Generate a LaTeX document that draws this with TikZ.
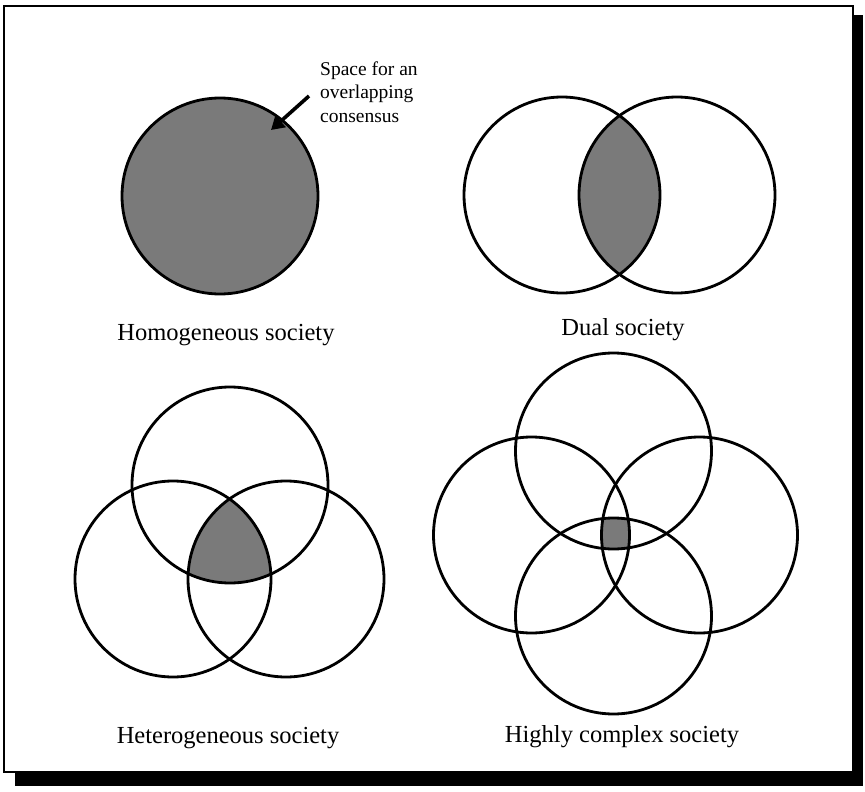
\documentclass[tikz,border=0pt]{standalone}
\usepackage{fontspec}
\setmainfont{Liberation Serif}
\usetikzlibrary{arrows.meta}
\begin{document}
\begin{tikzpicture}[x=1pt,y=-1pt,
  ring/.style={draw=black,line width=2.8pt},
  shadefill/.style={fill=black!52},
  lbl/.style={font=\fontsize{24.5}{29}\selectfont,anchor=base,inner sep=0pt},
  notetext/.style={font=\fontsize{19.5}{23}\selectfont,anchor=base west,inner sep=0pt},
  pointer/.style={line width=3.6pt,-{Triangle[length=13pt,width=15pt]}}
  ]
\useasboundingbox (0,0) rectangle (865,792);
% frame with shadow
\fill[black] (15,15) rectangle (863,786);
\draw[fill=white,line width=2pt] (4,6) rectangle (853,772);

% centres
\coordinate (H) at (220,196);
\coordinate (DL) at (562,195);
\coordinate (DR) at (677,195);
\coordinate (HT) at (230,485);
\coordinate (HL) at (173,579);
\coordinate (HR) at (286,579);
\coordinate (CT) at (613.5,451);
\coordinate (CL) at (531.5,535);
\coordinate (CR) at (699.5,535);
\coordinate (CB) at (613.5,616);

% homogeneous
\draw[ring,shadefill] (H) circle[radius=98pt];

% dual
\begin{scope}
  \clip (DL) circle[radius=98pt];
  \fill[shadefill] (DR) circle[radius=98pt];
\end{scope}
\draw[ring] (DL) circle[radius=98pt];
\draw[ring] (DR) circle[radius=98pt];

% heterogeneous
\begin{scope}
  \clip (HT) circle[radius=98pt];
  \clip (HL) circle[radius=98pt];
  \fill[shadefill] (HR) circle[radius=98pt];
\end{scope}
\draw[ring] (HT) circle[radius=98pt];
\draw[ring] (HL) circle[radius=98pt];
\draw[ring] (HR) circle[radius=98pt];

% highly complex
\begin{scope}
  \clip (CT) circle[radius=98pt];
  \clip (CL) circle[radius=98pt];
  \clip (CR) circle[radius=98pt];
  \fill[shadefill] (CB) circle[radius=98pt];
\end{scope}
\draw[ring] (CT) circle[radius=98pt];
\draw[ring] (CL) circle[radius=98pt];
\draw[ring] (CR) circle[radius=98pt];
\draw[ring] (CB) circle[radius=98pt];

% annotation
\node[notetext] (n1) at (320,76) {Space for an};
\node[notetext] (n2) at (320,99) {overlapping};
\node[notetext] (n3) at (320,122) {consensus};
\coordinate (atail) at (309,96);
\coordinate (ahead) at (271,130);
\draw[pointer] (atail) -- (ahead);

% labels
\node[lbl] (hom) at (226,340) {Homogeneous society};
\node[lbl] (dual) at (623,335) {Dual society};
\node[lbl] (het) at (228,743) {Heterogeneous society};
\node[lbl] (cpx) at (622,742) {Highly complex society};
\end{tikzpicture}
\end{document}
